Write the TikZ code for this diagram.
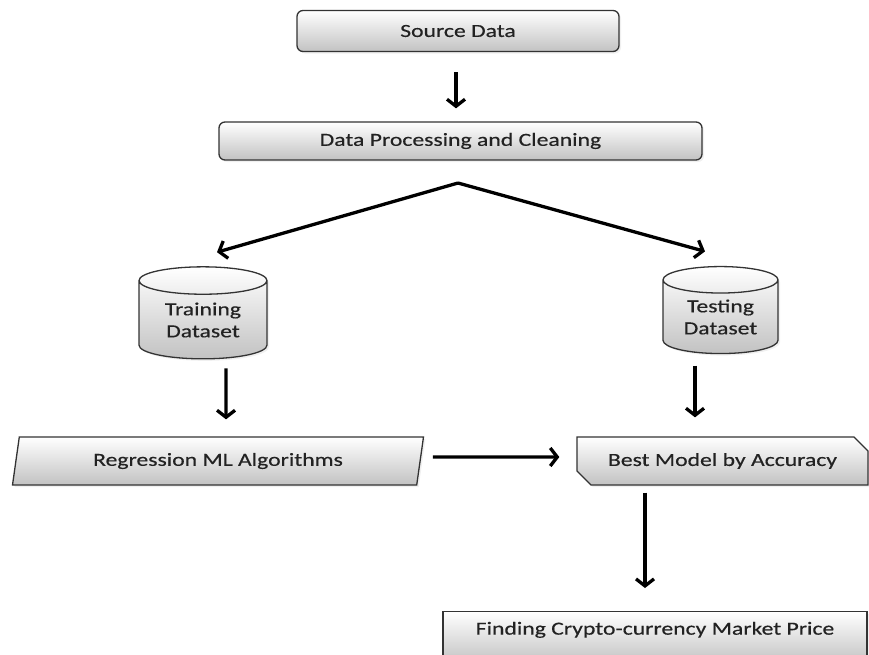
\documentclass[tikz,border=0pt]{standalone}
\usepackage{fontspec}
\setmainfont{Carlito}[FakeStretch=1.28,FakeBold=0.4]
\usetikzlibrary{shapes.geometric,shapes.misc,arrows.meta,shadows}

\definecolor{boxline}{HTML}{333333}
\definecolor{boxtext}{HTML}{222222}
\definecolor{shadelow}{HTML}{C2C2C2}

\tikzset{
  box/.style={draw=boxline, line width=1.3pt, top color=white, bottom color=shadelow,
    text=boxtext, font=\fontsize{18.5}{22}\selectfont, inner sep=0pt,
    drop shadow={opacity=0.12, shadow xshift=2pt, shadow yshift=-2pt}},
  roundbox/.style={box, rectangle, rounded corners=6pt},
  dbcyl/.style={box, cylinder, shape border rotate=90, aspect=0.36, align=center},
  slantbox/.style={box, trapezium, trapezium stretches body,
    trapezium left angle=67, trapezium right angle=113},
  cutbox/.style={box, chamfered rectangle, chamfered rectangle corners={south west,north east},
    chamfered rectangle xsep=7pt, chamfered rectangle ysep=7pt},
  arr/.style={line width=3.3pt, -{Straight Barb[length=7pt,width=18pt,line width=3.3pt]}}
}

\begin{document}
\begin{tikzpicture}[x=1pt,y=-1pt]
  \useasboundingbox (0,0) rectangle (869,654);
  % top row
  \node[roundbox, minimum width=322, minimum height=41] (src) at (458,31) {Source Data};
  \node[roundbox, minimum width=483, minimum height=38] (proc) at (460.5,141) {Data Processing and Cleaning};
  \coordinate (fork) at (458,183);
  % datasets
  \node[dbcyl, minimum width=128, minimum height=92] (train) at (203,320) {Training\\Dataset};
  \node[dbcyl, minimum width=115, minimum height=87] (test) at (720.5,317) {Testing\\Dataset};
  % models
  \node[slantbox, minimum width=411, minimum height=48] (regr) at (218,461) {Regression ML Algorithms};
  \node[cutbox, minimum width=291, minimum height=48] (best) at (722.5,461) {Best Model by Accuracy};
  % result
  \node[box, rectangle, anchor=north, minimum width=424, minimum height=52,
    text height=12pt, text depth=18pt] (price) at (655,611) {Finding Crypto-currency Market Price};

  % arrows
  \draw[arr, shorten <=20pt, shorten >=13pt] ([xshift=-2pt]src.south) -- ([xshift=-4.5pt]proc.north);
  \draw[arr] (fork) -- ([xshift=14pt,yshift=14pt]train.north);
  \draw[arr] (fork) -- ([xshift=-15.5pt,yshift=14.5pt]test.north);
  \draw[arr, shorten <=9pt, shorten >=17pt] ([xshift=23pt]train.south) -- ([xshift=8pt]regr.north);
  \draw[arr, shorten <=11.5pt, shorten >=19pt] ([xshift=-25.5pt]test.south) -- ([xshift=-27.5pt]best.north);
  \draw[arr, shorten <=12pt, shorten >=17pt] ([yshift=4pt]regr.east) -- ([yshift=4pt]best.west);
  \draw[arr, shorten <=7pt, shorten >=23pt] ([xshift=-77.5pt]best.south) -- ([xshift=-10pt]price.north);
\end{tikzpicture}
\end{document}
